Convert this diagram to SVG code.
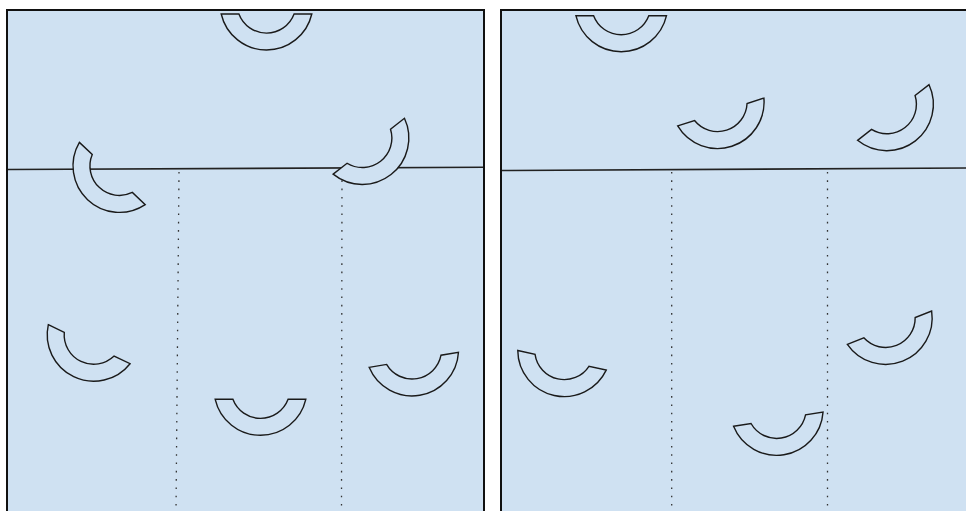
<svg xmlns="http://www.w3.org/2000/svg" xmlns:xlink="http://www.w3.org/1999/xlink" width="966" height="511" viewBox="0 0 966 511">
<style>
.panel{fill:#cfe1f2;stroke:#111;stroke-width:2}
.floor{fill:none;stroke:#222;stroke-width:1.6}
.dot{fill:none;stroke:#333;stroke-width:1.3;stroke-dasharray:1.6 6.7}
.cup{fill:#cfe1f2;stroke:#1a1a1a;stroke-width:1.4;stroke-linejoin:miter}
</style>
<defs>
<path id="c" d="M -45.3 0 L -27.6 0 A 29.5 29.5 0 0 0 27.6 0 L 45.3 0 A 46.5 46.5 0 0 1 -45.3 0 Z"/>
</defs>
<rect width="966" height="511" fill="#ffffff"/>
<g id="panels">
<rect class="panel" x="7" y="10" width="477" height="520"/>
<rect class="panel" x="501" y="10" width="480" height="520"/>
</g>
<g id="connectors">
<line class="floor" x1="8" y1="169.5" x2="483" y2="167.3"/>
<line class="floor" x1="502" y1="170.5" x2="966" y2="168"/>
<line class="dot" x1="179" y1="172" x2="176" y2="511"/>
<line class="dot" x1="342" y1="172" x2="341.5" y2="511"/>
<line class="dot" x1="671.7" y1="172" x2="671.7" y2="511"/>
<line class="dot" x1="827.5" y1="172" x2="827.5" y2="511"/>
</g>
<g id="cupA"><use xlink:href="#c" class="cup" transform="translate(266.5,14)"/></g>
<g id="cupB"><use xlink:href="#c" class="cup" transform="translate(112.3,173.5) rotate(43.4)"/></g>
<g id="cupC"><use xlink:href="#c" class="cup" transform="translate(368.8,146.2) rotate(-38.1)"/></g>
<g id="cupD"><use xlink:href="#c" class="cup" transform="translate(89.2,344.2) rotate(25.5)"/></g>
<g id="cupE"><use xlink:href="#c" class="cup" transform="translate(260.5,399.3)"/></g>
<g id="cupF"><use xlink:href="#c" class="cup" transform="translate(413.8,359.8) rotate(-9.6)"/></g>
<g id="cupG"><use xlink:href="#c" class="cup" transform="translate(621.2,15.7)"/></g>
<g id="cupH"><use xlink:href="#c" class="cup" transform="translate(720.8,112) rotate(-17.9)"/></g>
<g id="cupI"><use xlink:href="#c" class="cup" transform="translate(893.3,112.5) rotate(-37.9)"/></g>
<g id="cupJ"><use xlink:href="#c" class="cup" transform="translate(562,360.3) rotate(12.5)"/></g>
<g id="cupK"><use xlink:href="#c" class="cup" transform="translate(778.3,419.2) rotate(-9)"/></g>
<g id="cupL"><use xlink:href="#c" class="cup" transform="translate(889.5,327.7) rotate(-21.5)"/></g>
</svg>
